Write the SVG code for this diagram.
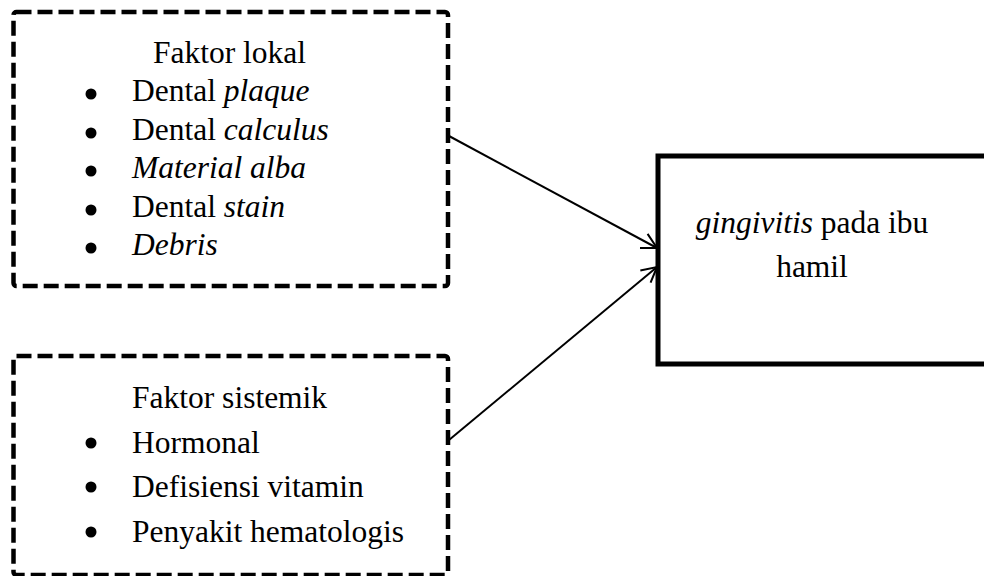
<svg xmlns="http://www.w3.org/2000/svg" width="984" height="576" viewBox="0 0 984 576">
<defs>
<style>
.dash{fill:none;stroke:#000;stroke-width:4.5;stroke-dasharray:15 6;stroke-linejoin:round}
.solid{fill:none;stroke:#000;stroke-width:5}
.t{font-family:"Liberation Serif","Times New Roman",serif;font-size:31.5px;fill:#000}
.i{font-style:italic}
.conn{stroke:#000;stroke-width:2;fill:none}
</style>
<marker id="arr" viewBox="0 0 20 20" refX="18" refY="10" markerWidth="20" markerHeight="20" markerUnits="userSpaceOnUse" orient="auto">
<path d="M3 2 L18 10 L3 18" fill="none" stroke="#000" stroke-width="2"/>
</marker>
</defs>
<rect width="984" height="576" fill="#fff"/>
<g id="lokal">
<rect class="dash" x="13.5" y="12" width="434.5" height="274" rx="3"/>
<text class="t" x="153" y="63">Faktor lokal</text>
<circle cx="91" cy="94" r="5.5"/>
<circle cx="91" cy="133" r="5.5"/>
<circle cx="91" cy="171" r="5.5"/>
<circle cx="91" cy="210" r="5.5"/>
<circle cx="91" cy="248" r="5.5"/>
<text class="t" x="132" y="101">Dental <tspan class="i">plaque</tspan></text>
<text class="t" x="132" y="140">Dental <tspan class="i">calculus</tspan></text>
<text class="t i" x="132" y="178">Material alba</text>
<text class="t" x="132" y="217">Dental <tspan class="i">stain</tspan></text>
<text class="t i" x="132" y="255">Debris</text>
</g>
<g id="sistemik">
<rect class="dash" x="13.5" y="356" width="434.5" height="219" rx="3"/>
<text class="t" x="132" y="408">Faktor sistemik</text>
<circle cx="91" cy="443" r="5.5"/>
<circle cx="91" cy="487" r="5.5"/>
<circle cx="91" cy="532" r="5.5"/>
<text class="t" x="132" y="453">Hormonal</text>
<text class="t" x="132" y="497">Defisiensi vitamin</text>
<text class="t" x="132" y="542">Penyakit hematologis</text>
</g>
<g id="gingivitis">
<rect class="solid" x="658" y="156" width="340" height="208"/>
<text class="t" x="812" y="233" text-anchor="middle"><tspan class="i">gingivitis</tspan> pada ibu</text>
<text class="t" x="812" y="277" text-anchor="middle">hamil</text>
</g>
<g id="connectors">
<line class="conn" x1="449" y1="136" x2="657" y2="248" marker-end="url(#arr)"/>
<line class="conn" x1="449" y1="440" x2="657" y2="267" marker-end="url(#arr)"/>
</g>
</svg>
